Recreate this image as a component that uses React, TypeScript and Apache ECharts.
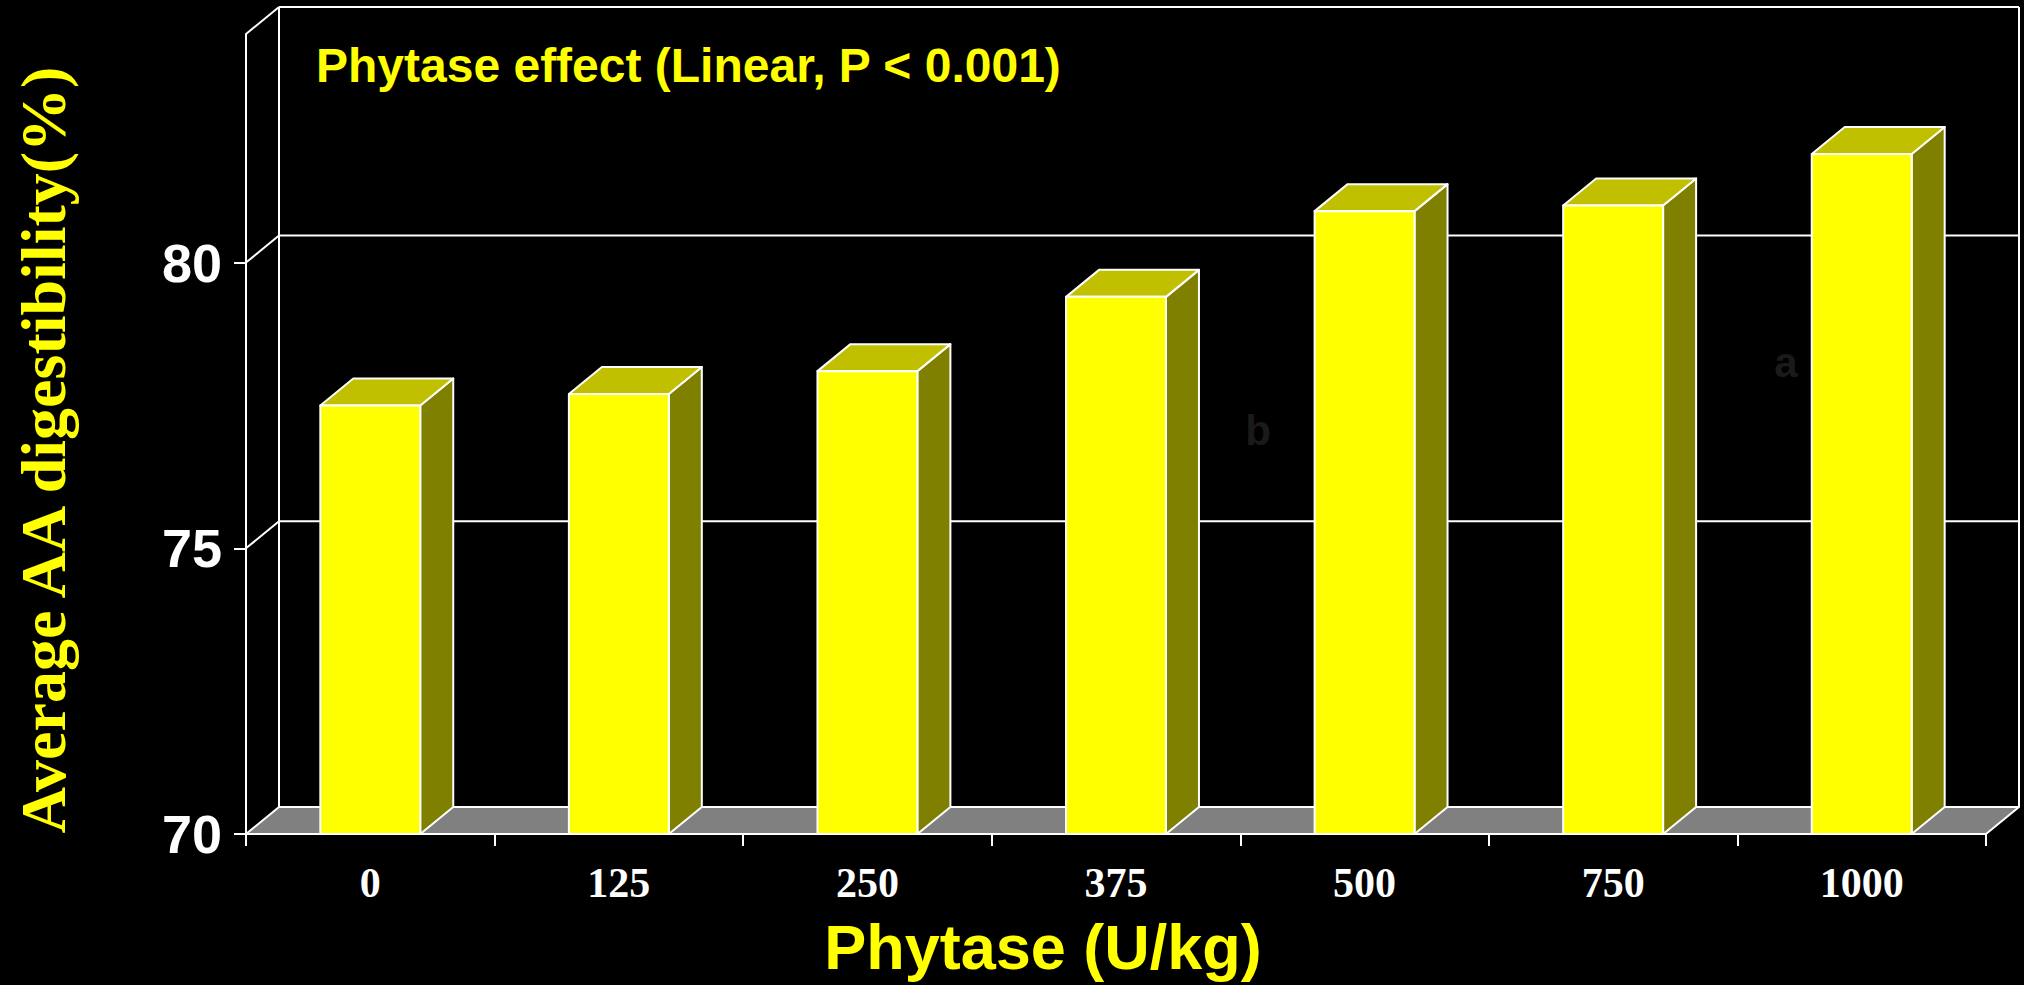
import React, { useEffect, useRef } from 'react';
import * as echarts from 'echarts';

// ---- data ----
const categories = ['0', '125', '250', '375', '500', '750', '1000'];
const digestibility = [77.5, 77.7, 78.1, 79.4, 80.9, 81.0, 81.9];
const yTicks = [70, 75, 80];
const yMin = 70;
const yMax = 84;
const chartTitle = 'Phytase effect (Linear, P < 0.001)';
const xTitle = 'Phytase (U/kg)';
const yTitle = 'Average AA digestibility(%)';
const significanceLetters = ['b', 'a'];

export default function App() {
  const ref = useRef<HTMLDivElement>(null);

  useEffect(() => {
    if (!ref.current) return;
    const chart = echarts.init(ref.current, null, { renderer: 'svg' });

    const DX = 33;
    const DY = -27;
    const WHITE = '#ffffff';
    const lineStyle = { stroke: WHITE, lineWidth: 2, lineJoin: 'round' };

    const renderFrame = (params: any, api: any) => {
      const cs = params.coordSys;
      const L = cs.x;
      const R = cs.x + cs.width;
      const yb = api.coord([0, yMin])[1];
      const yt = api.coord([0, yMax])[1];
      const children: any[] = [];
      // floor
      children.push({
        type: 'polygon',
        shape: { points: [[L, yb], [L + DX, yb + DY], [R + DX, yb + DY], [R, yb]] },
        style: { fill: '#808080', ...lineStyle },
      });
      // back wall
      children.push({ type: 'line', shape: { x1: L + DX, y1: yt + DY, x2: L + DX, y2: yb + DY }, style: lineStyle });
      children.push({ type: 'line', shape: { x1: R + DX, y1: yt + DY, x2: R + DX, y2: yb + DY }, style: lineStyle });
      children.push({ type: 'line', shape: { x1: L + DX, y1: yt + DY, x2: R + DX, y2: yt + DY }, style: lineStyle });
      children.push({ type: 'line', shape: { x1: L, y1: yt, x2: L + DX, y2: yt + DY }, style: lineStyle });
      // gridlines
      yTicks.filter((v) => v !== yMin).forEach((v) => {
        const y = api.coord([0, v])[1];
        children.push({ type: 'line', shape: { x1: L, y1: y, x2: L + DX, y2: y + DY }, style: lineStyle });
        children.push({ type: 'line', shape: { x1: L + DX, y1: y + DY, x2: R + DX, y2: y + DY }, style: lineStyle });
      });
      return { type: 'group', children };
    };

    const renderBar = (params: any, api: any) => {
      const i = api.value(0);
      const v = api.value(1);
      const top = api.coord([i, v]);
      const bottom = api.coord([i, yMin]);
      const bw = api.size([1, 0])[0] * 0.402;
      const x0 = top[0] - bw / 2;
      const x1 = top[0] + bw / 2;
      const yT = top[1];
      const yB = bottom[1];
      return {
        type: 'group',
        children: [
          {
            type: 'polygon',
            shape: { points: [[x1, yT], [x1 + DX, yT + DY], [x1 + DX, yB + DY], [x1, yB]] },
            style: { fill: '#808000', ...lineStyle },
          },
          {
            type: 'polygon',
            shape: { points: [[x0, yT], [x0 + DX, yT + DY], [x1 + DX, yT + DY], [x1, yT]] },
            style: { fill: '#C0C000', ...lineStyle },
          },
          {
            type: 'rect',
            shape: { x: x0, y: yT, width: bw, height: yB - yT },
            style: { fill: '#FFFF00', ...lineStyle },
          },
        ],
      };
    };

    const option: any = {
      animation: false,
      backgroundColor: '#000000',
      grid: { left: 246, right: 38, top: 34, bottom: 151 },
      xAxis: {
        type: 'category',
        data: categories,
        boundaryGap: true,
        axisLine: { lineStyle: { color: WHITE, width: 2 } },
        axisTick: { show: true, length: 12, alignWithLabel: false, interval: 0, lineStyle: { color: WHITE, width: 2 } },
        axisLabel: {
          interval: 0,
          color: WHITE,
          fontFamily: '"Liberation Serif", "Times New Roman", serif',
          fontWeight: 'bold',
          fontSize: 42,
          margin: 28,
        },
        splitLine: { show: false },
      },
      yAxis: {
        type: 'value',
        min: yMin,
        max: yMax,
        interval: 5,
        axisLine: { show: true, lineStyle: { color: WHITE, width: 2 } },
        axisTick: { show: true, length: 12, customValues: yTicks, lineStyle: { color: WHITE, width: 2 } },
        axisLabel: {
          customValues: yTicks,
          color: WHITE,
          fontFamily: '"Liberation Sans", Arial, sans-serif',
          fontWeight: 'bold',
          fontSize: 54,
          margin: 24,
        },
        splitLine: { show: false },
      },
      series: [
        {
          type: 'custom',
          name: 'frame',
          silent: true,
          z: 1,
          clip: false,
          renderItem: renderFrame,
          data: [[0, yMin]],
          encode: { x: 0, y: 1 },
        },
        {
          type: 'custom',
          name: 'Average AA digestibility',
          silent: true,
          z: 3,
          clip: false,
          renderItem: renderBar,
          data: digestibility.map((v, i) => [i, v]),
          encode: { x: 0, y: 1 },
        },
      ],
      graphic: [
        {
          type: 'text',
          x: 316,
          y: 65,
          z: 10,
          style: {
            text: chartTitle,
            fill: '#FFFF00',
            font: 'bold 48px "Liberation Sans", Arial, sans-serif',
            align: 'left',
            verticalAlign: 'middle',
          },
        },
        {
          type: 'text',
          x: 1043,
          y: 947,
          z: 10,
          style: {
            text: xTitle,
            fill: '#FFFF00',
            font: 'bold 63px "Liberation Sans", Arial, sans-serif',
            align: 'center',
            verticalAlign: 'middle',
          },
        },
        {
          type: 'text',
          x: 43,
          y: 450,
          z: 10,
          rotation: Math.PI / 2,
          style: {
            text: yTitle,
            fill: '#FFFF00',
            font: 'bold 64px "Liberation Serif", "Times New Roman", serif',
            align: 'center',
            verticalAlign: 'middle',
          },
        },
        {
          type: 'text',
          x: 1258,
          y: 430,
          z: 10,
          style: {
            text: significanceLetters[0],
            fill: '#1a1a1a',
            font: 'bold 42px "Liberation Sans", Arial, sans-serif',
            align: 'center',
            verticalAlign: 'middle',
          },
        },
        {
          type: 'text',
          x: 1786,
          y: 362,
          z: 10,
          style: {
            text: significanceLetters[1],
            fill: '#1a1a1a',
            font: 'bold 42px "Liberation Sans", Arial, sans-serif',
            align: 'center',
            verticalAlign: 'middle',
          },
        },
      ],
    };

    chart.setOption(option);
    return () => {
      chart.dispose();
    };
  }, []);

  return (
    <div
      ref={ref}
      style={{ position: 'fixed', left: 0, top: 0, width: '2024px', height: '985px', background: '#000' }}
    />
  );
}
